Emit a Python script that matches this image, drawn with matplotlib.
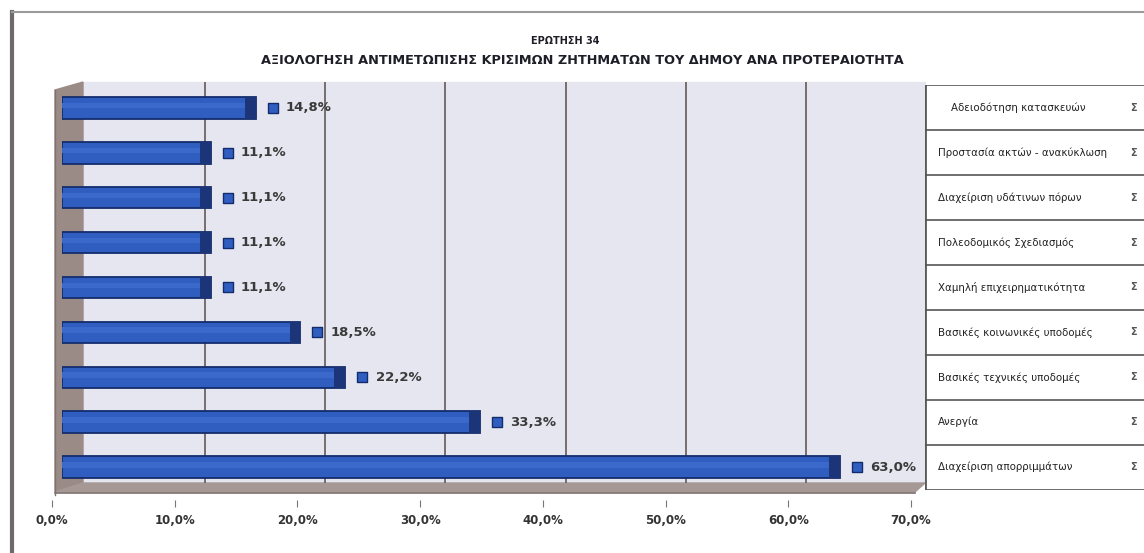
import numpy as np
import matplotlib.pyplot as plt
from matplotlib.patches import Polygon, Rectangle

plt.rcParams['font.family'] = ['DejaVu Sans']

# data, bottom row first
categories = ['Διαχείριση απορριμμάτων', 'Ανεργία', 'Βασικές τεχνικές υποδομές',
              'Βασικές κοινωνικές υποδομές', 'Χαμηλή επιχειρηματικότητα',
              'Πολεοδομικός Σχεδιασμός', 'Διαχείριση υδάτινων πόρων',
              'Προστασία ακτών - ανακύκλωση', 'Αδειοδότηση κατασκευών']
values = [63.0, 33.3, 22.2, 18.5, 11.1, 11.1, 11.1, 11.1, 14.8]
ticks = [0, 10, 20, 30, 40, 50, 60, 70]
title1 = 'ΕΡΩΤΗΣΗ 34'
title2 = 'ΑΞΙΟΛΟΓΗΣΗ ΑΝΤΙΜΕΤΩΠΙΣΗΣ ΚΡΙΣΙΜΩΝ ΖΗΤΗΜΑΤΩΝ ΤΟΥ ΔΗΜΟΥ ΑΝΑ ΠΡΟΤΕΡΑΙΟΤΗΤΑ'

W, H = 1144, 553
fig = plt.figure(figsize=(W / 100, H / 100), dpi=100)


def box(x0, y0, x1, y1):
    # pixel box (top-left origin) -> figure fraction rect
    return [x0 / W, 1 - y1 / H, (x1 - x0) / W, (y1 - y0) / H]


def pct(v):
    return ('%.1f%%' % v).replace('.', ',')


# background in pixel coordinates (frame, walls, floor)
bg = fig.add_axes([0, 0, 1, 1])
bg.set_xlim(0, W)
bg.set_ylim(H, 0)
bg.axis('off')
bg.plot([12, 12], [12, H], color='#6f6a6a', lw=3)
bg.plot([12, W], [12, 12], color='#9a9a9a', lw=1.5)
bg.add_patch(Rectangle((83, 82), 842, 401, color='#e6e6f0', zorder=0))
bg.add_patch(Polygon([(55, 90), (83, 82), (83, 483), (55, 492)], color='#9b8b87', zorder=1))
bg.add_patch(Polygon([(55, 492), (83, 483), (925, 483), (915, 492)], color='#a59895', zorder=1))
bg.plot([55, 915], [493, 493], color='#7d7270', lw=1.2)
bg.plot([55, 55], [90, 495], color='#7d7270', lw=1)

bg.text(565, 41, title1, ha='center', va='center', fontsize=7, fontweight='bold',
        color='#1e1e28')
bg.text(582, 61, title2, ha='center', va='center', fontsize=9.25, fontweight='bold',
        color='#1e1e28')

# back wall gridlines and floor axis
back = fig.add_axes(box(85, 82, 926, 483))
back.set_xlim(0, 70)
back.set_ylim(0, 1)
back.axis('off')
for t in ticks[1:-1]:
    back.axvline(t, color='#6e6464', lw=1.3)

front = fig.add_axes(box(52, 493, 911, 500))
front.set_xlim(0, 70)
front.set_ylim(0, 1)
front.patch.set_alpha(0)
for s in front.spines.values():
    s.set_visible(False)
front.set_yticks([])
front.set_xticks(ticks)
front.set_xticklabels([pct(t) for t in ticks])
front.tick_params(axis='x', length=5, color='#777777', pad=5, labelsize=8.5,
                  labelcolor='#333333')
for lab in front.get_xticklabels():
    lab.set_fontweight('bold')

# bars
ax = fig.add_axes(box(62, 85, 925, 490))
x_lo = -1.16
ax.set_xlim(x_lo, 70)
ax.set_ylim(-0.51, len(values) - 0.49)
ax.axis('off')
y = np.arange(len(values))
vals = np.array(values)
ax.barh(y, vals - x_lo, left=x_lo, height=0.48, color='#2f5ec0',
        edgecolor='#142c6c', lw=1.3, zorder=3)
ax.barh(y + 0.05, vals - x_lo, left=x_lo, height=0.12, color='#3a69cb', lw=0, zorder=4)
ax.barh(y, 0.9, left=vals - 0.9, height=0.48, color='#1c3478', lw=0, zorder=5)
ax.scatter(vals + 1.4, y, marker='s', s=45, color='#2f5ec0', edgecolor='#142c6c',
           lw=1, zorder=5, clip_on=False)
for yi, v in zip(y, vals):
    ax.text(v + 2.5, yi, pct(v), va='center', ha='left',
            fontsize=9.5, fontweight='bold', color='#3a3a3a')

# category table on the right
tb = fig.add_axes(box(925, 85, W, 490))
tb.set_xlim(0, 1)
tb.set_ylim(-0.51, len(values) - 0.49)
tb.axis('off')
tb.axvline(0.0, color='#5a5a5a', lw=2)
for i in range(len(categories) + 1):
    tb.axhline(i - 0.5, color='#555555', lw=1.2)
for i, name in enumerate(categories):
    x = 0.12 if i == len(categories) - 1 else 0.06
    tb.text(x, i, name, va='center', ha='left', fontsize=7.4, color='#222222')
    tb.text(0.95, i, 'Σ', va='center', ha='center', fontsize=7, fontweight='bold',
            color='#555555')

fig.savefig('out.png', dpi=100)
